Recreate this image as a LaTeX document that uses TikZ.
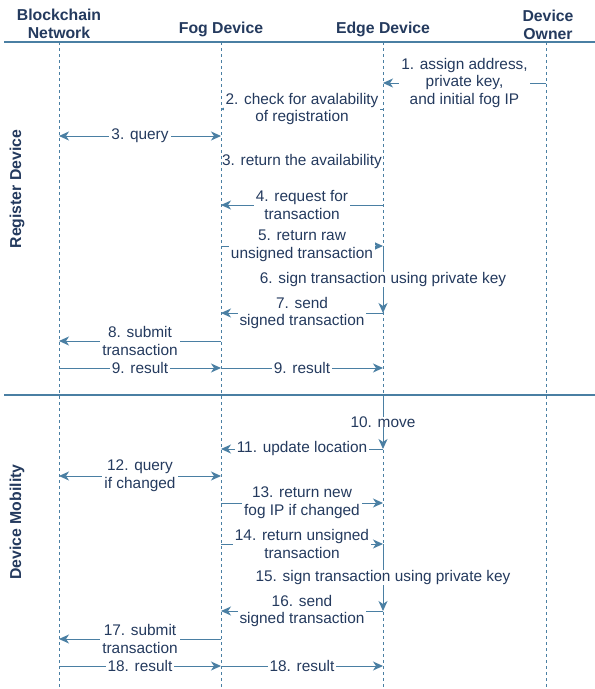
\documentclass[tikz,border=0pt]{standalone}
\usepackage{fontspec}
\setmainfont{Liberation Sans}
\usetikzlibrary{arrows.meta}
\definecolor{wire}{HTML}{4A7FA3}
\definecolor{ink}{HTML}{243A5E}
\begin{document}
\begin{tikzpicture}[x=1pt,y=-1pt,
  lifeline/.style={wire, line width=0.9pt, dash pattern=on 3pt off 3pt},
  rulerline/.style={wire, line width=1.1pt},
  tip/.tip={Stealth[length=10pt,width=9pt,inset=3pt]},
  msg/.style={wire, line width=1pt, -tip},
  twoway/.style={wire, line width=1pt, tip-tip},
  txt/.style={text=ink, align=center, inner xsep=2pt, inner ysep=0pt,
    font=\fontsize{15.4}{17.8}\selectfont},
  lbl/.style={txt, fill=white},
  head/.style={text=ink, align=center, inner sep=0pt,
    font=\fontsize{15.8}{17.8}\selectfont\bfseries},
]
\useasboundingbox (0,0) rectangle (595,689);

% lifeline anchors
\coordinate (bc) at (59,42);
\coordinate (fog) at (221,42);
\coordinate (edge) at (383,42);
\coordinate (owner) at (546,42);

% participants
\node[head] (hbc) at (59,24) {Blockchain\\Network};
\node[head] (hfog) at (221,29) {Fog Device};
\node[head] (hedge) at (383,29) {Edge Device};
\node[head] (howner) at (548,25) {Device\\Owner};

% phase labels
\node[head, rotate=90] (reg) at (17,189) {Register Device};
\node[head, rotate=90] (mob) at (17,522) {Device Mobility};

% header rule and phase separator
\draw[rulerline] (4,42) -- (595,42);
\draw[rulerline] (4,395) -- (595,395);

% lifelines
\foreach \p in {bc,fog,edge,owner}
  \draw[lifeline] (\p) -- (\p |- 0,689);

% --- register device ---
\draw[msg] (owner |- 0,83) -- node[lbl]{1. assign address,\\private key,\\and initial fog IP} (edge |- 0,83);
\draw[msg] (edge |- 0,109) -- node[lbl]{2. check for avalability\\of registration} (fog |- 0,109);
\draw[twoway] (bc |- 0,136) -- node[lbl]{3. query} (fog |- 0,136);
\node[txt] (ret3) at (302,162) {3. return the availability};
\draw[msg] (edge |- 0,205) -- node[lbl]{4. request for\\transaction} (fog |- 0,205);
\draw[msg] (fog |- 0,246) -- node[lbl]{5. return raw\\unsigned transaction} (edge |- 0,246);
\draw[msg] (edge |- 0,246) -- node[lbl]{6. sign transaction using private key} (edge |- 0,313);
\draw[msg] (edge |- 0,313) -- node[lbl]{7. send\\signed transaction} (fog |- 0,313);
\draw[msg] (fog |- 0,341) -- node[lbl]{8. submit\\transaction} (bc |- 0,341);
\draw[msg] (bc |- 0,368) -- node[lbl]{9. result} (fog |- 0,368);
\draw[msg] (fog |- 0,368) -- node[lbl]{9. result} (edge |- 0,368);

% --- device mobility ---
\draw[msg] (edge |- 0,395) -- node[lbl]{10. move} (edge |- 0,449);
\draw[msg] (edge |- 0,449) -- node[lbl]{11. update location} (fog |- 0,449);
\draw[twoway] (bc |- 0,476) -- node[lbl]{12. query\\if changed} (fog |- 0,476);
\draw[msg] (fog |- 0,503) -- node[lbl]{13. return new\\fog IP if changed} (edge |- 0,503);
\draw[msg] (fog |- 0,544) -- node[lbl]{14. return unsigned\\transaction} (edge |- 0,544);
\draw[msg] (edge |- 0,544) -- node[lbl]{15. sign transaction using private key} (edge |- 0,611);
\draw[msg] (edge |- 0,611) -- node[lbl]{16. send\\signed transaction} (fog |- 0,611);
\draw[msg] (fog |- 0,639) -- node[lbl]{17. submit\\transaction} (bc |- 0,639);
\draw[msg] (bc |- 0,666) -- node[lbl]{18. result} (fog |- 0,666);
\draw[msg] (fog |- 0,666) -- node[lbl]{18. result} (edge |- 0,666);
\end{tikzpicture}
\end{document}
